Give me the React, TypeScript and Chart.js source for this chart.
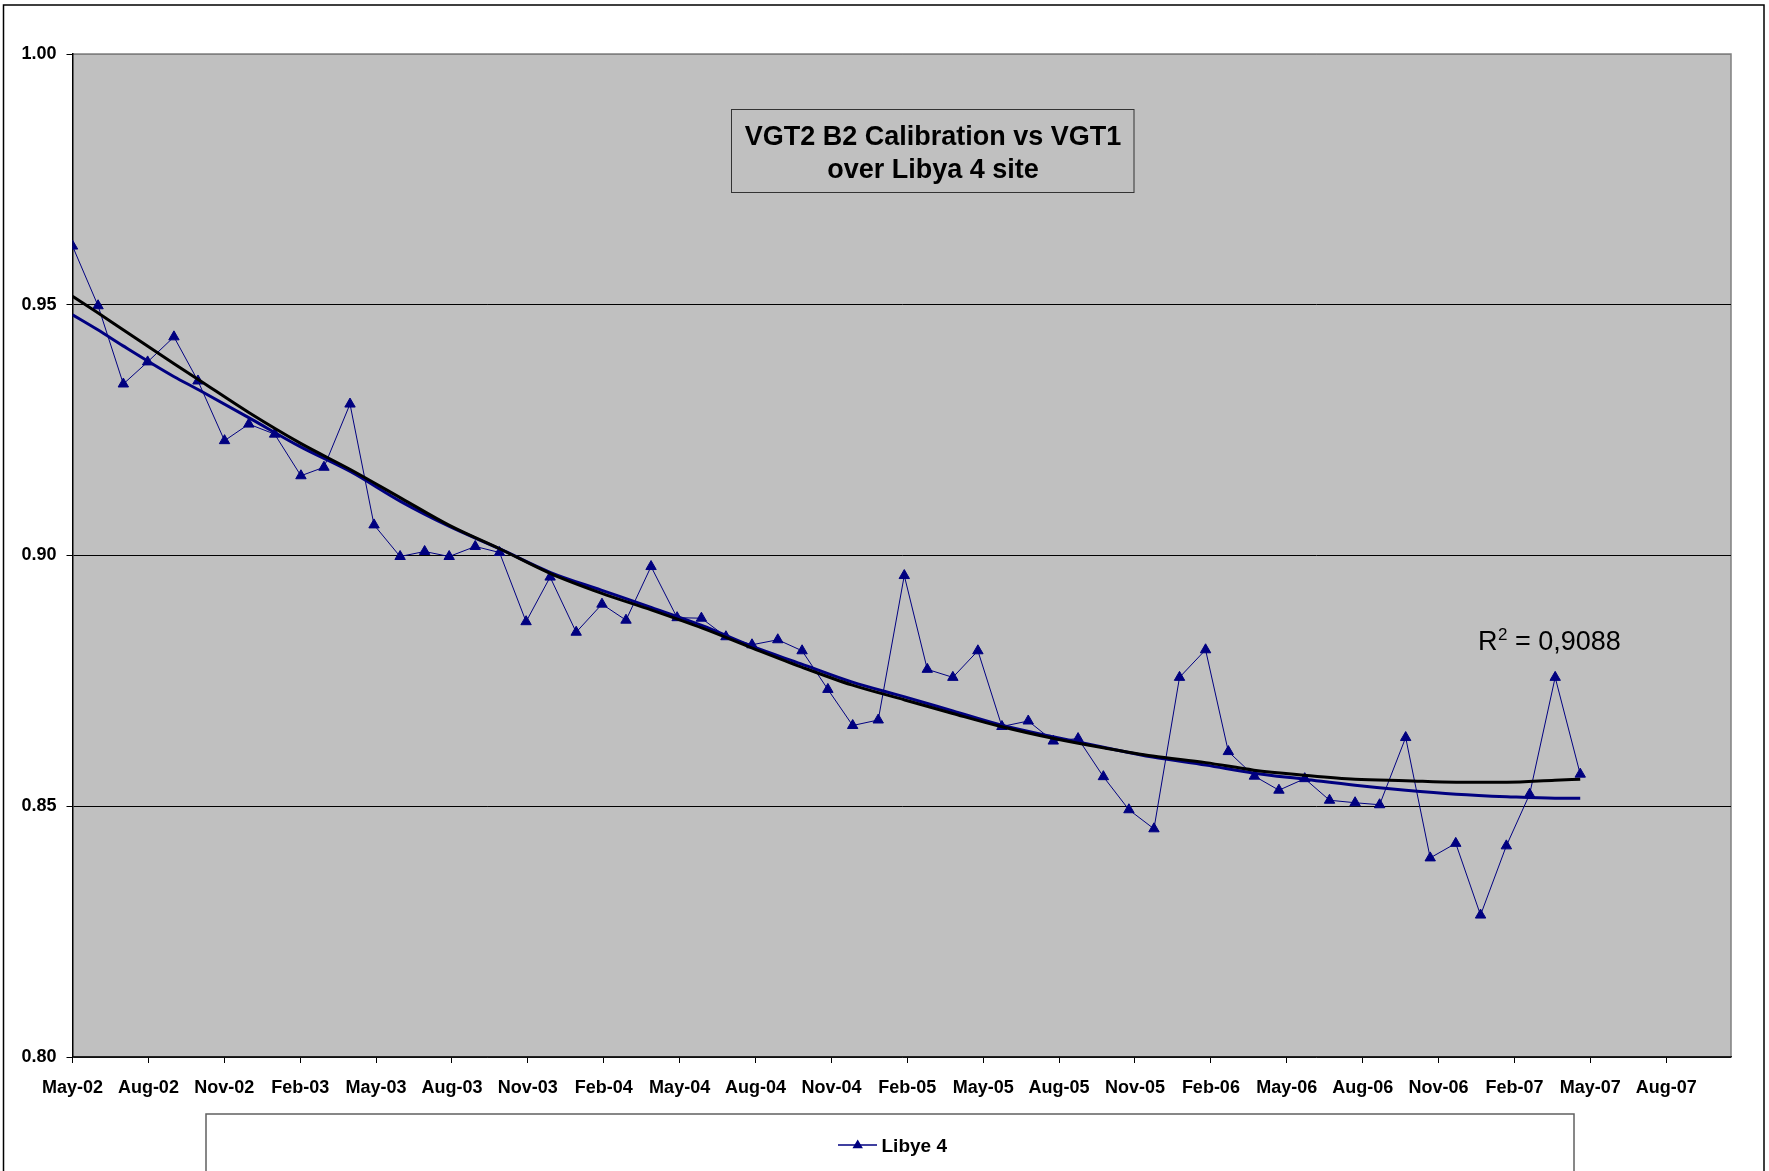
import React, { useEffect, useRef } from "react";
import { Chart, registerables } from "chart.js";

Chart.register(...registerables);

// ---- data (months counted from May-02) ----
const tickMonths = [0, 3, 6, 9, 12, 15, 18, 21, 24, 27, 30, 33, 36, 39, 42, 45, 48, 51, 54, 57, 60, 63];
const tickLabels = [
  "May-02", "Aug-02", "Nov-02", "Feb-03", "May-03", "Aug-03", "Nov-03", "Feb-04",
  "May-04", "Aug-04", "Nov-04", "Feb-05", "May-05", "Aug-05", "Nov-05", "Feb-06",
  "May-06", "Aug-06", "Nov-06", "Feb-07", "May-07", "Aug-07",
];
const yTicks = [0.8, 0.85, 0.9, 0.95, 1.0];

const monthOffsets = [
  0, 1.01, 2.01, 2.97, 4.01, 4.96, 6.01, 6.97, 7.99, 9.03, 9.94, 10.97, 11.92, 12.95,
  13.92, 14.89, 15.92, 16.88, 17.93, 18.88, 19.91, 20.93, 21.88, 22.87, 23.9, 24.86,
  25.83, 26.86, 27.88, 28.84, 29.86, 30.84, 31.85, 32.88, 33.79, 34.8, 35.79, 36.74,
  37.78, 38.77, 39.75, 40.75, 41.76, 42.75, 43.76, 44.79, 45.69, 46.72, 47.69, 48.71,
  49.69, 50.7, 51.67, 52.7, 53.67, 54.68, 55.66, 56.68, 57.6, 58.61, 59.6,
];
const libye4 = [
  0.9617, 0.9498, 0.9342, 0.9386, 0.9436, 0.9348, 0.9229, 0.9262, 0.9242, 0.9159,
  0.9176, 0.9302, 0.9061, 0.8998, 0.9008, 0.8998, 0.9018, 0.9006, 0.8868, 0.8957,
  0.8847, 0.8903, 0.8871, 0.8978, 0.8876, 0.8875, 0.8838, 0.8822, 0.8832, 0.881,
  0.8733, 0.8661, 0.8672, 0.896, 0.8773, 0.8757, 0.881, 0.8659, 0.867, 0.863,
  0.8635, 0.8559, 0.8493, 0.8455, 0.8757, 0.8812, 0.8609, 0.856, 0.8532, 0.8555,
  0.8512, 0.8507, 0.8503, 0.8637, 0.8397, 0.8426, 0.8283, 0.8421, 0.8524, 0.8757,
  0.8564,
];

const trendMonths = [
  0, 1, 2, 4, 5, 7, 9, 11, 13, 14.9, 16.9, 18.9, 20.9, 22.9, 24.9, 26.9, 28.8, 30.8,
  32.9, 34.8, 36.7, 38.8, 40.8, 42.7, 44.8, 46.7, 48.7, 50.7, 52.7, 54.7, 56.7, 58.6, 59.6,
];
const polyTrend = [
  0.9517, 0.9484, 0.945, 0.9383, 0.935, 0.9284, 0.9224, 0.9171, 0.9114, 0.906, 0.9013,
  0.8964, 0.8925, 0.8891, 0.8855, 0.8815, 0.8778, 0.8742, 0.8712, 0.8685, 0.8659,
  0.8635, 0.8616, 0.86, 0.8587, 0.8572, 0.8562, 0.8554, 0.8551, 0.8548, 0.8548, 0.8552, 0.8554,
];
const blueTrend = [
  0.948, 0.945, 0.9418, 0.9357, 0.933, 0.9274, 0.9217, 0.9167, 0.9107, 0.9058, 0.9013,
  0.8966, 0.8931, 0.8896, 0.886, 0.8818, 0.8784, 0.8748, 0.8718, 0.869, 0.8662,
  0.8638, 0.8617, 0.8598, 0.8582, 0.8566, 0.8554, 0.8542, 0.8532, 0.8524, 0.8519, 0.8516, 0.8516,
];

const seriesName = "Libye 4";
const titleLines = ["VGT2 B2 Calibration vs VGT1", "over Libya 4 site"];
const r2Value = "0,9088";

const FONT = '"Liberation Sans", Arial, Helvetica, sans-serif';
const NAVY = "#000080";

export default function App() {
  const ref = useRef<HTMLCanvasElement>(null);

  useEffect(() => {
    const canvas = ref.current;
    if (!canvas) return;

    const decor = {
      id: "decor",
      beforeDraw(chart: any) {
        const { ctx, chartArea: a } = chart;
        ctx.save();
        ctx.fillStyle = "#ffffff";
        ctx.fillRect(0, 0, chart.width, chart.height);
        ctx.fillStyle = "#C0C0C0";
        ctx.fillRect(a.left, a.top, a.right - a.left, a.bottom - a.top);
        ctx.strokeStyle = "#808080";
        ctx.lineWidth = 1.5;
        ctx.beginPath();
        ctx.moveTo(a.left, a.top);
        ctx.lineTo(a.right, a.top);
        ctx.lineTo(a.right, a.bottom);
        ctx.stroke();
        ctx.restore();
      },
      afterDraw(chart: any) {
        const { ctx } = chart;
        ctx.save();
        // title box
        ctx.strokeStyle = "#333333";
        ctx.lineWidth = 1;
        ctx.strokeRect(731.5, 109.5, 402.5, 83);
        ctx.fillStyle = "#000";
        ctx.font = `bold 27px ${FONT}`;
        ctx.textAlign = "center";
        ctx.textBaseline = "alphabetic";
        ctx.fillText(titleLines[0], 933, 144.5);
        ctx.fillText(titleLines[1], 933, 177.5);

        // R² label
        ctx.textAlign = "left";
        ctx.font = `27px ${FONT}`;
        ctx.fillText("R", 1478, 650);
        ctx.font = `17px ${FONT}`;
        ctx.fillText("2", 1498, 640);
        ctx.font = `27px ${FONT}`;
        ctx.fillText("= " + r2Value, 1515, 650);

        // legend box
        ctx.strokeStyle = "#606060";
        ctx.lineWidth = 1.5;
        ctx.strokeRect(206, 1114, 1368, 80);
        ctx.strokeStyle = NAVY;
        ctx.lineWidth = 1.5;
        ctx.beginPath();
        ctx.moveTo(838, 1145);
        ctx.lineTo(877, 1145);
        ctx.stroke();
        ctx.fillStyle = NAVY;
        const r = 5.5;
        const cx = 857.7, cy = 1145;
        ctx.beginPath();
        ctx.moveTo(cx, cy - r);
        ctx.lineTo(cx + r * 0.95, cy + r * 0.6);
        ctx.lineTo(cx - r * 0.95, cy + r * 0.6);
        ctx.closePath();
        ctx.fill();
        ctx.fillStyle = "#000";
        ctx.font = `bold 19px ${FONT}`;
        ctx.fillText(seriesName, 881.5, 1151.5);

        // outer frame
        ctx.strokeStyle = "#000";
        ctx.lineWidth = 1.5;
        ctx.strokeRect(3.5, 5, 1760.5, 1190);
        ctx.restore();
      },
    };

    const chart = new Chart(canvas, {
      type: "line",
      data: {
        datasets: [
          {
            label: "Poly trend",
            data: trendMonths.map((m, i) => ({ x: m, y: polyTrend[i] })),
            borderColor: "#000000",
            borderWidth: 3,
            pointRadius: 0,
            cubicInterpolationMode: "monotone",
            order: 0,
          },
          {
            label: "Trend",
            data: trendMonths.map((m, i) => ({ x: m, y: blueTrend[i] })),
            borderColor: NAVY,
            borderWidth: 3,
            pointRadius: 0,
            cubicInterpolationMode: "monotone",
            order: 1,
          },
          {
            label: seriesName,
            data: monthOffsets.map((m, i) => ({ x: m, y: libye4[i] })),
            borderColor: NAVY,
            backgroundColor: NAVY,
            borderWidth: 1,
            pointStyle: "triangle",
            pointRadius: 6,
            pointBorderWidth: 1,
            pointBackgroundColor: NAVY,
            pointBorderColor: NAVY,
            tension: 0,
            order: 2,
          },
        ],
      },
      options: {
        responsive: false,
        animation: false,
        devicePixelRatio: 1,
        layout: { padding: { left: 0, right: 38, top: 54, bottom: 64 } },
        plugins: {
          legend: { display: false },
          tooltip: { enabled: false },
          title: { display: false },
        },
        scales: {
          x: {
            type: "linear",
            position: "bottom",
            min: 0,
            max: 65.56,
            afterBuildTicks: (scale: any) => {
              scale.ticks = tickMonths.map((v) => ({ value: v }));
            },
            afterFit: (scale: any) => {
              scale.height = 50;
            },
            ticks: {
              autoSkip: false,
              maxRotation: 0,
              padding: 14,
              color: "#000",
              font: { family: FONT, size: 18, weight: "bold" },
              callback: (_v: any, i: number) => tickLabels[i],
            },
            grid: {
              drawOnChartArea: false,
              drawTicks: true,
              tickLength: 6,
              tickColor: "#000",
            },
            border: { display: true, color: "#222", width: 1.5 },
          },
          y: {
            type: "linear",
            min: 0.8,
            max: 1.0,
            afterBuildTicks: (scale: any) => {
              scale.ticks = yTicks.map((v) => ({ value: v }));
            },
            afterFit: (scale: any) => {
              scale.width = 72.5;
            },
            ticks: {
              padding: 10,
              color: "#000",
              font: { family: FONT, size: 18, weight: "bold" },
              callback: (v: any) => Number(v).toFixed(2),
            },
            grid: {
              color: (c: any) => (c.tick && c.tick.value > 0.999 ? "#808080" : "#000000"),
              lineWidth: 1,
              drawTicks: true,
              tickLength: 6,
              tickColor: "#000",
            },
            border: { display: true, color: "#000", width: 1.5 },
          },
        },
      },
      plugins: [decor],
    } as any);

    return () => chart.destroy();
  }, []);

  return (
    <div style={{ position: "absolute", left: 0, top: 0, width: 1769, height: 1171, background: "#fff" }}>
      <canvas ref={ref} width={1769} height={1171} style={{ display: "block", width: 1769, height: 1171 }} />
    </div>
  );
}
